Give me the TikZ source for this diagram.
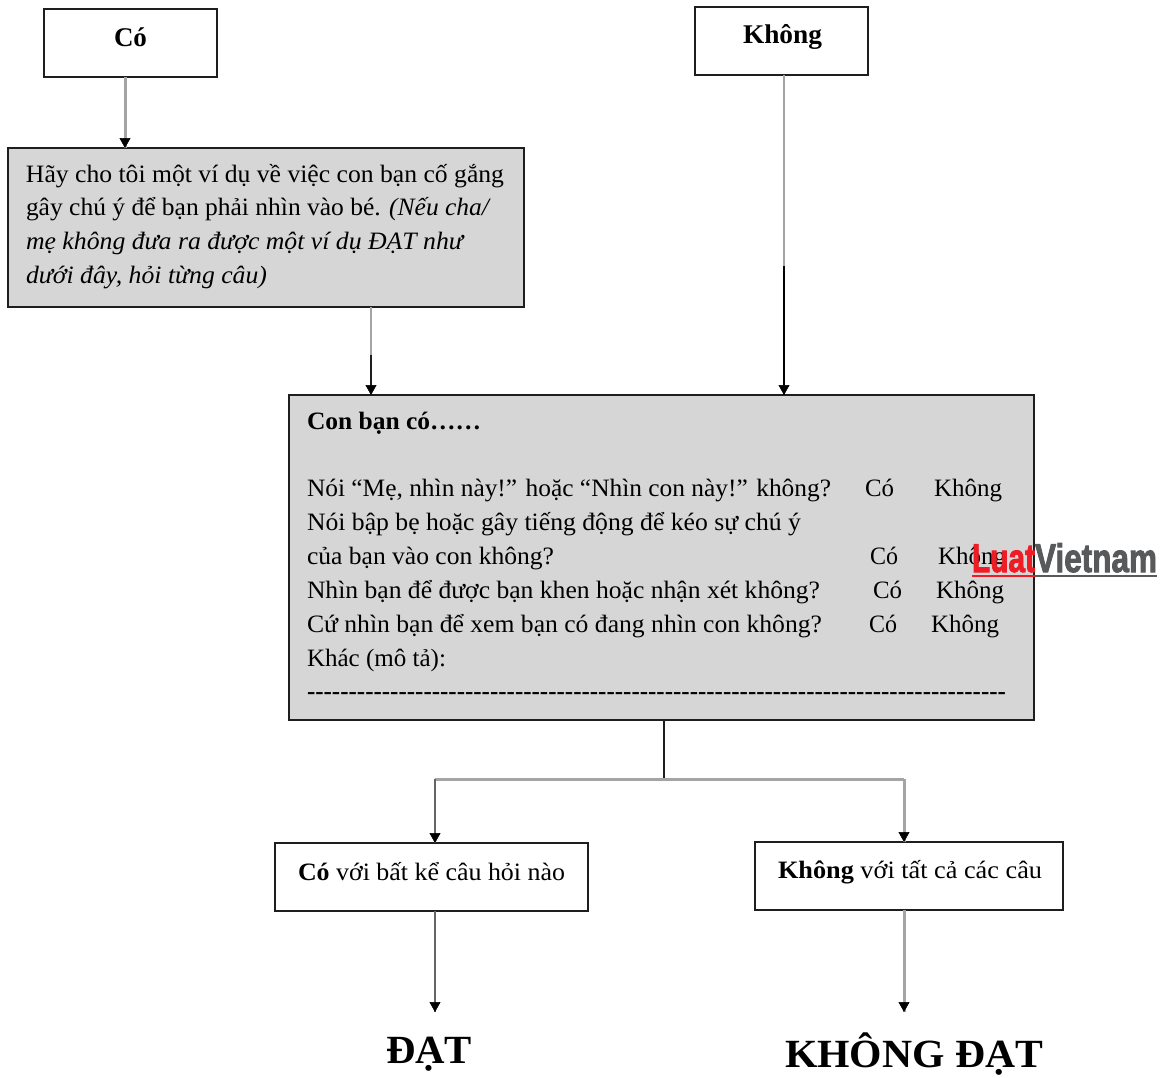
\documentclass[tikz,border=0pt]{standalone}
\usepackage{fontspec}
\usepackage{graphicx}
\setmainfont{Liberation Serif}
\newfontfamily\wmfont[BoldFeatures={FakeBold=2.5}]{Liberation Sans}
\usetikzlibrary{arrows.meta,calc}
\definecolor{boxgray}{HTML}{D6D6D6}
\definecolor{edge}{HTML}{1E1E1E}
\definecolor{shaft}{HTML}{A4A4A4}
\definecolor{wmred}{HTML}{EE1C25}
\definecolor{wmgray}{HTML}{58595B}
\newcommand\fitw[2]{\resizebox{#1pt}{\height}{\strut #2}}
\newcommand\hten{-{}-{}-{}-{}-{}-{}-{}-{}-{}-{}}
\tikzset{
  plainbox/.style={draw=edge,line width=1.6pt,fill=white,inner sep=0pt,outer sep=0pt},
  graybox/.style={plainbox,fill=boxgray},
  txt/.style={anchor=base west,inner sep=0pt,outer sep=0pt,text=black,font=\fontsize{25}{25}\selectfont},
  bigtxt/.style={txt,font=\fontsize{40}{40}\selectfont\bfseries},
  conn/.style={draw=shaft,line width=3pt},
  slimconn/.style={draw=shaft,line width=2pt},
  darkconn/.style={draw=black!60,line width=2pt},
  thinconn/.style={draw=edge,line width=2pt},
  tiponly/.style={draw=black,line width=0.6pt,-{Triangle[length=10pt,width=11pt]}},
}
\begin{document}
\begin{tikzpicture}[x=1pt,y=-1pt]
\useasboundingbox (0,0) rectangle (1169,1077);
% boxes
\node[plainbox,minimum width=173pt,minimum height=68pt] (co) at (130.5,43) {};
\node[plainbox,minimum width=173pt,minimum height=68pt] (khong) at (781.5,41) {};
\node[graybox,minimum width=516pt,minimum height=159pt] (ask) at (266,227.5) {};
\node[graybox,minimum width=745pt,minimum height=325pt] (main) at (661.5,557.5) {};
\node[plainbox,minimum width=313pt,minimum height=68pt] (anyyes) at (431.5,877) {};
\node[plainbox,minimum width=308pt,minimum height=68pt] (allno) at (909,876) {};
% routing coordinates
\coordinate (xa) at (125,0);
\coordinate (xb) at (371,0);
\coordinate (xc) at (784,0);
\coordinate (xd) at (664,0);
\coordinate (xe) at (435,0);
\coordinate (xf) at (904,0);
\coordinate (ybus) at (0,779);
\coordinate (ysw) at (0,266);
\coordinate (yend) at (0,1012);
\coordinate (bend) at (xd |- ybus);
\coordinate (splice) at (xc |- ysw);
% connectors
\draw[conn] (co.south -| xa) -- (ask.north -| xa);
\draw[tiponly] ($(ask.north -| xa)+(0,-8)$) -- (ask.north -| xa);
\draw[slimconn] (ask.south -| xb) -- ($(ask.south -| xb)!0.55!(main.north -| xb)$);
\draw[thinconn] ($(ask.south -| xb)!0.55!(main.north -| xb)$) -- (main.north -| xb);
\draw[tiponly] ($(main.north -| xb)+(0,-10)$) -- (main.north -| xb);
\draw[slimconn] (khong.south -| xc) -- (splice);
\draw[thinconn,draw=black] (splice) -- (main.north -| xc);
\draw[tiponly] ($(main.north -| xc)+(0,-10)$) -- (main.north -| xc);
\draw[thinconn] (main.south -| xd) -- (bend);
\draw[conn] (xe |- ybus) -- (xf |- ybus);
\draw[darkconn] (xe |- ybus) -- (xe |- anyyes.north);
\draw[tiponly] ($(xe |- anyyes.north)+(0,-10)$) -- (xe |- anyyes.north);
\draw[conn] (xf |- ybus) -- (xf |- allno.north);
\draw[tiponly] ($(xf |- allno.north)+(0,-10)$) -- (xf |- allno.north);
\draw[darkconn] (anyyes.south -| xe) -- (xe |- yend);
\draw[tiponly] ($(xe |- yend)+(0,-10)$) -- (xe |- yend);
\draw[conn] (allno.south -| xf) -- (xf |- yend);
\draw[tiponly] ($(xf |- yend)+(0,-10)$) -- (xf |- yend);
% box titles
\node[txt,font=\fontsize{27}{27}\selectfont\bfseries] (t1) at (114,46) {\fitw{33}{Có}};
\node[txt,font=\fontsize{27}{27}\selectfont\bfseries] (t2) at (743,43) {\fitw{79}{Không}};
% question box
\node[txt] (q1) at (26,182) {\fitw{478}{Hãy cho tôi một ví dụ về việc con bạn cố gắng}};
\node[txt] (q2) at (26,215.5) {\fitw{465}{gây chú ý để bạn phải nhìn vào bé. \textit{(Nếu cha/}}};
\node[txt,font=\fontsize{25}{25}\selectfont\itshape] (q3) at (26,249) {\fitw{437}{mẹ không đưa ra được một ví dụ ĐẠT như}};
\node[txt,font=\fontsize{25}{25}\selectfont\itshape] (q4) at (26,283) {\fitw{241}{dưới đây, hỏi từng câu)}};
% main box
\node[txt,font=\fontsize{25}{25}\selectfont\bfseries] (m0) at (307,429) {\fitw{174}{Con bạn có……}};
\node[txt] (m1) at (307,496) {\fitw{524}{Nói “Mẹ, nhìn này!” hoặc “Nhìn con này!” không?}};
\node[txt] (m1a) at (865,496) {\fitw{29}{Có}};
\node[txt] (m1b) at (934,496) {\fitw{68}{Không}};
\node[txt] (m2) at (307,530) {\fitw{494}{Nói bập bẹ hoặc gây tiếng động để kéo sự chú ý}};
\node[txt] (m3) at (307,564) {\fitw{247}{của bạn vào con không?}};
\node[txt] (m3a) at (870,564) {\fitw{28}{Có}};
\node[txt] (m3b) at (938,564) {\fitw{68}{Không}};
\node[txt] (m4) at (307,598) {\fitw{513}{Nhìn bạn để được bạn khen hoặc nhận xét không?}};
\node[txt] (m4a) at (873,598) {\fitw{29}{Có}};
\node[txt] (m4b) at (936,598) {\fitw{68}{Không}};
\node[txt] (m5) at (307,632) {\fitw{515}{Cứ nhìn bạn để xem bạn có đang nhìn con không?}};
\node[txt] (m5a) at (869,632) {\fitw{28}{Có}};
\node[txt] (m5b) at (931,632) {\fitw{68}{Không}};
\node[txt] (m6) at (307,666) {\fitw{139}{Khác (mô tả):}};
\node[txt,font=\fontsize{25}{25}\selectfont\bfseries] (m7) at (307,699) {\fitw{699}{\hten\hten\hten\hten\hten\hten\hten\hten-{}-{}-{}-{}}};
% lower boxes
\node[txt] (y1) at (298,880) {\fitw{267}{\textbf{Có} với bất kể câu hỏi nào}};
\node[txt] (n1) at (778,878) {\fitw{264}{\textbf{Không} với tất cả các câu}};
\node[bigtxt] (r1) at (386,1063) {\fitw{86}{ĐẠT}};
\node[bigtxt] (r2) at (785,1067) {\fitw{258}{KHÔNG ĐẠT}};
% watermark
\node[txt,text=wmred,font=\fontsize{40}{40}\selectfont\wmfont\bfseries] (w1) at (972,572) {\resizebox{63pt}{\height}{Luat}};
\node[txt,text=wmgray,font=\fontsize{40}{40}\selectfont\wmfont\bfseries] (w2) at (1035,572) {\resizebox{122pt}{\height}{Vietnam}};
\draw[draw=wmred,line width=2pt] (w1.base west |- 0,576) -- (w2.base west |- 0,576);
\draw[draw=wmgray,line width=2pt] (w2.base west |- 0,576) -- (1157,576);
\end{tikzpicture}
\end{document}
